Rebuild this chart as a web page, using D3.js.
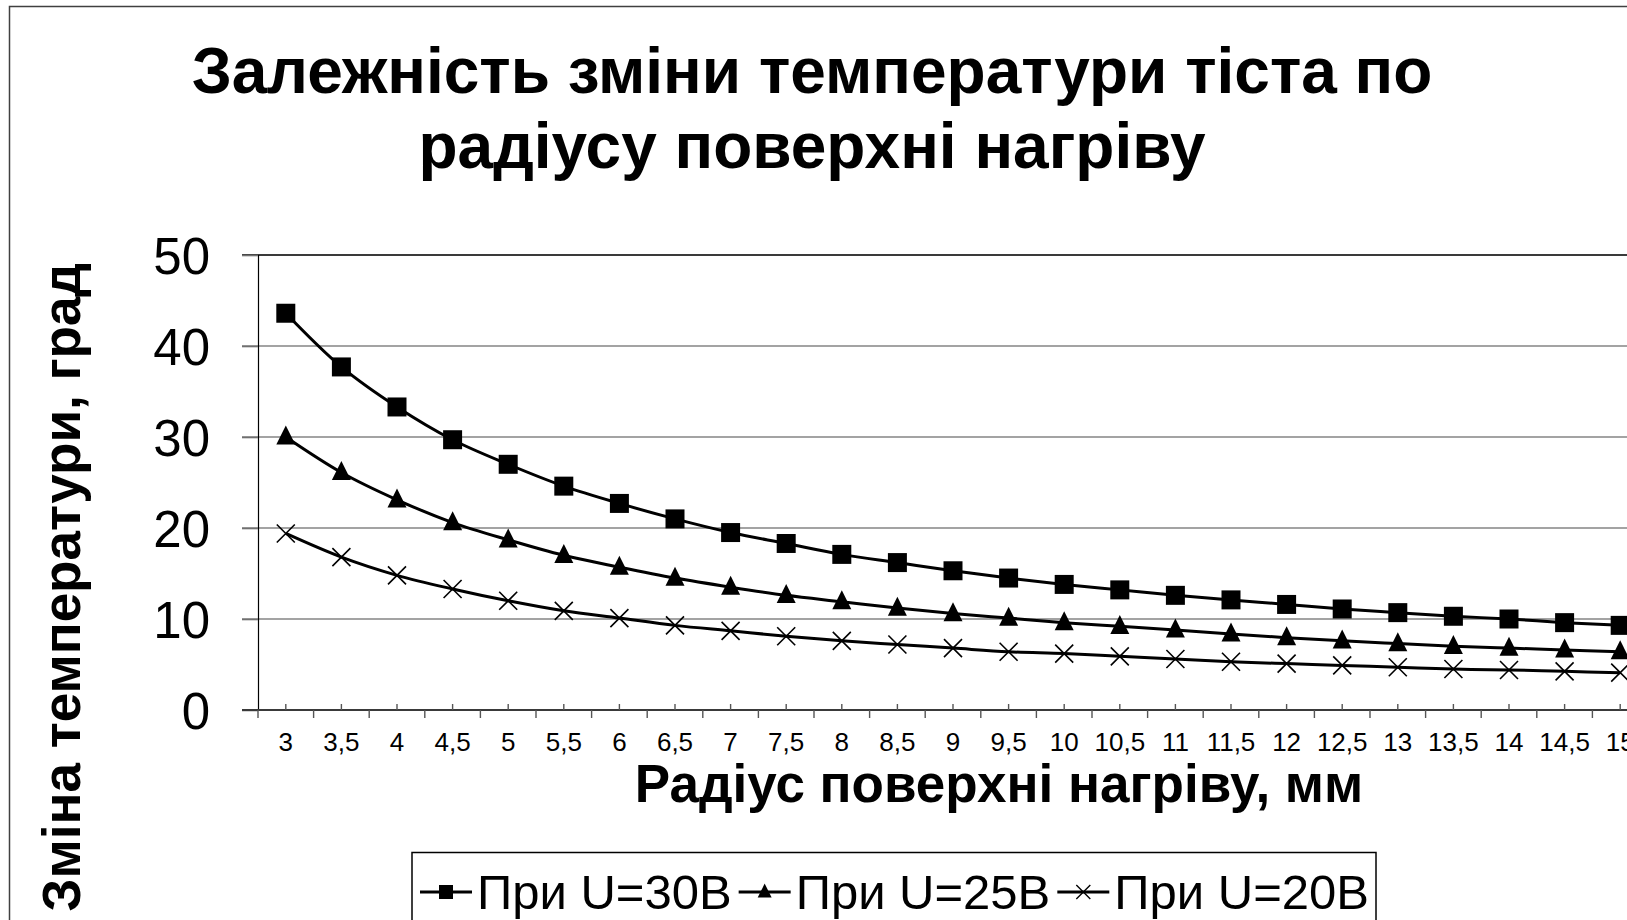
<!DOCTYPE html>
<html>
<head>
<meta charset="utf-8">
<script src="https://cdn.jsdelivr.net/npm/d3@7"></script>
<style>
  body { margin: 0; background: #fff; overflow: hidden; }
  text { font-family: "Liberation Sans", Arial, sans-serif; fill: #000; }
</style>
</head>
<body>
<svg id="chart" width="1627" height="920"></svg>
<script>
// radius of the heating surface, mm
let radius = [3, 3.5, 4, 4.5, 5, 5.5, 6, 6.5, 7, 7.5, 8, 8.5, 9, 9.5, 10,
              10.5, 11, 11.5, 12, 12.5, 13, 13.5, 14, 14.5, 15];

// temperature change, grad
let u30 = [43.6, 37.7, 33.3, 29.7, 27.0, 24.6, 22.7, 21.0, 19.5, 18.3, 17.1, 16.2, 15.3,
           14.5, 13.8, 13.2, 12.6, 12.1, 11.6, 11.1, 10.7, 10.3, 10.0, 9.6, 9.3];
let u25 = [30.0, 26.1, 23.1, 20.6, 18.7, 17.0, 15.7, 14.5, 13.5, 12.6, 11.9, 11.2, 10.6,
           10.1, 9.6, 9.2, 8.8, 8.35, 7.95, 7.6, 7.3, 7.0, 6.8, 6.6, 6.4];
let u20 = [19.4, 16.8, 14.8, 13.3, 12.0, 10.9, 10.1, 9.3, 8.7, 8.1, 7.6, 7.2, 6.8,
           6.4, 6.2, 5.9, 5.6, 5.3, 5.1, 4.9, 4.7, 4.5, 4.4, 4.25, 4.1];

let seriesNames = ["При U=30В", "При U=25В", "При U=20В"];
let yTicks = [0, 10, 20, 30, 40, 50];

let titleLines = ["Залежність зміни температури тіста по", "радіусу поверхні нагріву"];
let xTitle = "Радіус поверхні нагріву, мм";
let yTitle = "Зміна температури, град";

function fmt(v) {
    return String(v).replace(".", ",");
}

// marker paths
function markerPath(kind, s) {
    if (kind == "square")
        return `M${-s/2},${-s/2}h${s}v${s}h${-s}Z`;
    if (kind == "triangle")
        return `M0,${-s*0.6}L${s/2},${s*0.4}L${-s/2},${s*0.4}Z`;
    return `M${-s/2},${-s/2}L${s/2},${s/2}M${-s/2},${s/2}L${s/2},${-s/2}`;
}

let series = [
    { name: seriesNames[0], values: u30, kind: "square" },
    { name: seriesNames[1], values: u25, kind: "triangle" },
    { name: seriesNames[2], values: u20, kind: "cross" }
];

let svg = d3.select("#chart");
svg.append("rect").attr("width", 1627).attr("height", 920).attr("fill", "#fff");

// outer chart border
svg.append("rect")
    .attr("x", 9.5).attr("y", 6.5)
    .attr("width", 1700).attr("height", 1000)
    .attr("fill", "none").attr("stroke", "#404040").attr("stroke-width", 1.5);

let plotLeft = 258, plotTop = 255, plotBottom = 710;
let step = 55.6;

let x = d3.scaleBand()
    .domain(radius)
    .range([plotLeft, plotLeft + step * radius.length])
    .padding(0);
let xc = d => x(d) + x.bandwidth() / 2;

let y = d3.scaleLinear().domain([0, 50]).range([plotBottom, plotTop]);

// gridlines
svg.append("g")
    .selectAll("line")
    .data(yTicks.filter(d => d > 0))
    .join("line")
    .attr("x1", plotLeft - 16).attr("x2", 1700)
    .attr("y1", d => y(d)).attr("y2", d => y(d))
    .attr("stroke", d => d == 50 ? "#3a3a3a" : "#858585")
    .attr("stroke-width", d => d == 50 ? 2 : 1.6);

// y axis
let yAxis = svg.append("g")
    .attr("transform", `translate(${plotLeft},0)`)
    .call(d3.axisLeft(y).tickValues(yTicks).tickSize(16).tickPadding(32));
yAxis.select(".domain").attr("stroke", "#000").attr("stroke-width", 1.2);
yAxis.selectAll(".tick line").attr("stroke", "#707070").attr("stroke-width", 1.6);
yAxis.selectAll(".tick text")
    .style("font-family", "'Liberation Sans', Arial, sans-serif")
    .style("font-size", "51px")
    .attr("dy", "0.36em");

// x axis: line, minor ticks at centres, major ticks between categories
let xAxis = svg.append("g").attr("transform", `translate(0,${plotBottom})`);
xAxis.append("line")
    .attr("x1", plotLeft - 16).attr("x2", 1700)
    .attr("stroke", "#3a3a3a").attr("stroke-width", 2.2);
xAxis.selectAll(".minor")
    .data(radius)
    .join("line")
    .attr("class", "minor")
    .attr("x1", d => xc(d)).attr("x2", d => xc(d))
    .attr("y1", 0).attr("y2", -6)
    .attr("stroke", "#555").attr("stroke-width", 1.4);
xAxis.selectAll(".major")
    .data(radius)
    .join("line")
    .attr("class", "major")
    .attr("x1", d => x(d)).attr("x2", d => x(d))
    .attr("y1", 0).attr("y2", 8)
    .attr("stroke", "#555").attr("stroke-width", 1.4);
xAxis.selectAll(".lbl")
    .data(radius)
    .join("text")
    .attr("class", "lbl")
    .attr("x", d => xc(d))
    .attr("y", 41)
    .attr("text-anchor", "middle")
    .style("font-size", "26px")
    .text(d => fmt(d));

// series lines and markers
let line = d3.line()
    .x((d, i) => xc(radius[i]))
    .y(d => y(d))
    .curve(d3.curveCatmullRom.alpha(0.5));

series.forEach(s => {
    svg.append("path")
        .datum(s.values)
        .attr("d", line)
        .attr("fill", "none")
        .attr("stroke", "#000")
        .attr("stroke-width", 3);

    svg.append("g")
        .selectAll("path")
        .data(s.values)
        .join("path")
        .attr("transform", (d, i) => `translate(${xc(radius[i])},${y(d)})`)
        .attr("d", markerPath(s.kind, s.kind == "cross" ? 18 : 19))
        .attr("fill", s.kind == "cross" ? "none" : "#000")
        .attr("stroke", "#000")
        .attr("stroke-width", s.kind == "cross" ? 1.6 : 0);
});

// titles
svg.append("g")
    .selectAll("text")
    .data(titleLines)
    .join("text")
    .attr("x", 812)
    .attr("y", (d, i) => 93 + i * 75)
    .attr("text-anchor", "middle")
    .style("font-size", "64px")
    .style("font-weight", "bold")
    .text(d => d);

svg.append("text")
    .attr("x", 999).attr("y", 802)
    .attr("text-anchor", "middle")
    .style("font-size", "53px")
    .style("font-weight", "bold")
    .text(xTitle);

svg.append("text")
    .attr("transform", "translate(80,263) rotate(-90)")
    .attr("text-anchor", "end")
    .style("font-size", "53px")
    .style("font-weight", "bold")
    .text(yTitle);

// legend
let legend = svg.append("g");
legend.append("rect")
    .attr("x", 412).attr("y", 852.5)
    .attr("width", 964).attr("height", 120)
    .attr("fill", "#fff").attr("stroke", "#000").attr("stroke-width", 1.5);

let lx = 420;
series.forEach(s => {
    let g = legend.append("g").attr("transform", `translate(${lx},0)`);
    g.append("line")
        .attr("x1", 0).attr("x2", 52)
        .attr("y1", 892).attr("y2", 892)
        .attr("stroke", "#000").attr("stroke-width", 3);
    g.append("path")
        .attr("transform", "translate(26,892)")
        .attr("d", markerPath(s.kind, 14))
        .attr("fill", s.kind == "cross" ? "none" : "#000")
        .attr("stroke", "#000")
        .attr("stroke-width", s.kind == "cross" ? 1.4 : 0);
    let t = g.append("text")
        .attr("x", 57).attr("y", 909)
        .style("font-size", "49px")
        .text(s.name);
    lx += 57 + t.node().getComputedTextLength() + 7;
});
</script>
</body>
</html>
